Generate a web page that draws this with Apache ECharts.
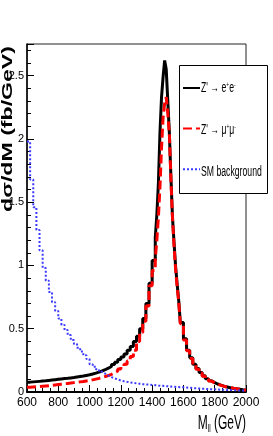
<!DOCTYPE html>
<html>
<head>
<meta charset="utf-8">
<script src="https://cdn.jsdelivr.net/npm/echarts@6/dist/echarts.min.js"></script>
<style>
html,body{margin:0;padding:0;background:#fff;}
#chart{width:273px;height:436px;}
</style>
</head>
<body>
<div id="chart"></div>
<script>
// Left bin edges (GeV) plus final right edge 2000
const binEdges = [
  600,620,640,660,680,700,720,740,760,780,800,820,840,860,880,900,920,940,960,980,
  1000,1020,1040,1060,1080,1100,1120,1140,1160,1180,1200,1220,1240,1260,1280,1300,1320,1340,1360,1380,1400,
  1420,1430,1440,1450,1460,1470,1480,1490,1500,1510,1520,1530,1540,1550,1560,1570,
  1580,1600,1620,1640,1660,1680,1700,1720,1740,1760,1780,1800,1820,1840,1860,1880,1900,1920,1940,1960,1980,
  2000
];
// Z' -> e+e-  (fb/GeV)
const eeValues = [
  0.078,0.080,0.082,0.084,0.086,0.088,0.091,0.094,0.097,0.100,
  0.103,0.106,0.108,0.111,0.114,0.118,0.122,0.126,0.131,0.136,
  0.142,0.149,0.157,0.166,0.176,0.188,0.202,0.218,0.236,0.256,
  0.277,0.300,0.33,0.36,0.40,0.44,0.50,0.58,0.70,0.86,1.04,
  1.22,1.40,1.65,2.05,2.33,2.49,2.62,2.55,2.30,2.05,1.70,1.38,1.18,0.99,0.85,0.72,
  0.55,0.42,0.33,0.27,0.22,0.185,0.155,0.128,0.105,0.088,0.074,0.063,0.054,0.046,0.040,0.034,0.029,0.025,0.021,0.017,0.014
];
// Z' -> mu+mu-
const mumuValues = [
  0.038,0.040,0.042,0.044,0.046,0.048,0.050,0.053,0.056,0.059,
  0.062,0.065,0.068,0.071,0.074,0.077,0.080,0.083,0.087,0.091,
  0.096,0.102,0.108,0.115,0.122,0.130,0.140,0.152,0.166,0.182,
  0.200,0.220,0.245,0.28,0.33,0.40,0.47,0.56,0.68,0.84,0.96,
  1.05,1.20,1.38,1.62,1.93,2.17,2.28,2.33,2.20,2.04,1.68,1.38,1.15,0.97,0.83,0.71,
  0.54,0.41,0.325,0.265,0.215,0.18,0.15,0.125,0.103,0.086,0.072,0.061,0.052,0.045,0.039,0.034,0.029,0.025,0.021,0.017,0.014
];
// SM background
const smValues = [
  1.98,1.68,1.46,1.28,1.12,0.98,0.88,0.79,0.71,0.64,
  0.58,0.53,0.49,0.45,0.41,0.38,0.35,0.32,0.29,0.26,
  0.22,0.20,0.18,0.16,0.145,0.13,0.118,0.108,0.099,0.091,
  0.085,0.080,0.076,0.072,0.068,0.065,0.062,0.060,0.058,0.056,0.054,
  0.052,0.051,0.050,0.049,0.048,0.047,0.046,0.045,0.044,0.043,0.042,0.041,0.040,0.039,0.039,0.038,
  0.037,0.035,0.033,0.031,0.029,0.028,0.026,0.025,0.023,0.022,0.021,0.019,0.018,0.017,0.016,0.015,0.014,0.013,0.012,0.011,0.010
];
const seriesNames = ["Z' → e+e-", "Z' → μ+μ-", "SM background"];
const legendLabels = ["Z' → e{sup|+}e{sup|-}", "Z' → μ{sup|+}μ{sup|-}", "SM background"];
const xTickLabels = ['600','800','1000','1200','1400','1600','1800','2000'];
const yTickLabels = ['0','0.5','1','1.5','2','2.5'];

function toSteps(vals){
  const d = vals.map((v,i)=>[binEdges[i], v]);
  d.push([binEdges[binEdges.length-1], vals[vals.length-1]]);
  return d;
}
const SANS = "'Liberation Sans',Arial,sans-serif";

// legend entry text (condensed like the original) drawn beside the legend icons
const legendTexts = legendLabels.map((t, i) => ({
  type:'text', x:201, y:88 + 42*i, scaleX:0.62, scaleY:1, z:30,
  style:{text:t, fontFamily:SANS, fontSize:14, fill:'#000', align:'left', verticalAlign:'middle',
    rich:{sup:{fontFamily:SANS, fontSize:8, fill:'#000', padding:[0,0,7,0]}}}
}));

const chart = echarts.init(document.getElementById('chart'), null, {renderer:'canvas'});
chart.setOption({
  animation:false,
  backgroundColor:'#fff',
  grid:{left:27, right:27, top:44, bottom:44, show:true, borderColor:'#222', borderWidth:1, containLabel:false},
  xAxis:{
    type:'value', min:600, max:2000, interval:200,
    axisLine:{show:true, onZero:false, lineStyle:{color:'#000', width:2}},
    axisTick:{inside:true, length:7, lineStyle:{color:'#000', width:1}},
    minorTick:{show:true, splitNumber:4, length:4, lineStyle:{color:'#000'}},
    axisLabel:{color:'#000', fontFamily:SANS, fontSize:12, margin:5,
      formatter:(v)=>{const s=String(v); return xTickLabels.indexOf(s)>=0?s:'';}},
    splitLine:{show:false}
  },
  yAxis:{
    type:'value', min:0, max:2.75, interval:0.5,
    axisLine:{show:true, lineStyle:{color:'#000', width:1.5}},
    axisTick:{inside:true, length:7, lineStyle:{color:'#000', width:1}},
    minorTick:{show:true, splitNumber:5, length:4, lineStyle:{color:'#000'}},
    axisLabel:{color:'#000', fontFamily:SANS, fontSize:11, margin:3, showMaxLabel:false,
      formatter:(v)=>{const s=String(v); return yTickLabels.indexOf(s)>=0?s:'';}},
    splitLine:{show:false}
  },
  legend:{
    left:179, top:65, orient:'vertical', itemGap:28, itemWidth:17, itemHeight:14, z:20,
    padding:[16,6,15,3], backgroundColor:'transparent', borderWidth:0,
    data:seriesNames,
    itemStyle:{opacity:0},
    formatter:()=>'',
    textStyle:{color:'#000', fontSize:10}
  },
  graphic:[
    {type:'rect', z:10, shape:{x:179.5, y:65.5, width:88, height:128},
      style:{fill:'#fff', stroke:'#000', lineWidth:1}},
    {type:'text', x:8, y:129, rotation:Math.PI/2, scaleX:1.65, scaleY:1,
      style:{text:'dσ/dM (fb/GeV)', fontFamily:SANS, fontWeight:'bold', fontSize:14,
        fill:'#000', align:'center', verticalAlign:'middle'}},
    {type:'text', x:246, y:423, scaleX:0.6, scaleY:1,
      style:{text:'M{s|ll} (GeV)', fontFamily:SANS, fontSize:20, fill:'#000',
        align:'right', verticalAlign:'middle',
        rich:{s:{fontFamily:SANS, fontSize:11, fill:'#000', padding:[11,0,0,0]}}}}
  ].concat(legendTexts),
  series:[
    {name:seriesNames[0], type:'line', step:'end', symbol:'none', data:toSteps(eeValues),
      lineStyle:{color:'#000', width:3}, itemStyle:{color:'#000'}, z:2},
    {name:seriesNames[1], type:'line', step:'end', symbol:'none', data:toSteps(mumuValues),
      lineStyle:{color:'#ff0000', width:3, type:[9,4]}, itemStyle:{color:'#ff0000'}, z:3},
    {name:seriesNames[2], type:'line', step:'end', symbol:'none', data:toSteps(smValues),
      lineStyle:{color:'#3a3aff', width:2, type:[2,2]}, itemStyle:{color:'#3a3aff'}, z:4}
  ]
});
</script>
</body>
</html>
